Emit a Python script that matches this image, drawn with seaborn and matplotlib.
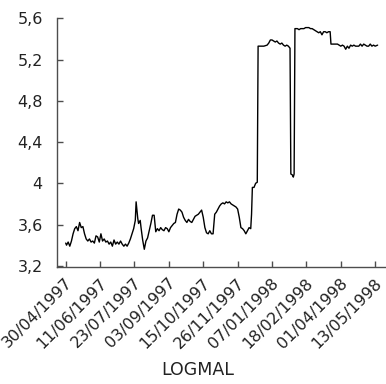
import pandas as pd
import numpy as np
import matplotlib
matplotlib.use("Agg")
from matplotlib import pyplot as plt
from matplotlib import transforms
import seaborn as sns

# series: day offset from the first date, value
start = "1997-04-30"
days = [0, 1, 3, 5, 7, 9, 11, 13, 15, 17, 19, 21, 23, 25, 27, 29, 31, 33, 35, 37,
        39, 41, 43, 45, 47, 49, 51, 53, 55, 57, 59, 61, 63, 65, 67, 69, 71, 73, 75, 77,
        79, 81, 83, 85, 86, 88, 89, 91, 92, 94, 96, 98, 100, 102, 104, 106, 108, 110, 112, 114,
        116, 118, 120, 122, 124, 126, 128, 130, 132, 134, 136, 138, 140, 142, 144, 146, 148, 150, 152, 154,
        156, 158, 160, 162, 164, 166, 168, 170, 172, 174, 176, 178, 180, 182, 184, 186, 188, 190, 192, 194,
        196, 198, 200, 202, 204, 206, 208, 210, 212, 214, 216, 218, 220, 222, 224, 226, 227, 228, 230, 232,
        234, 235, 238, 242, 246, 248, 250, 252, 254, 256, 258, 260, 262, 264, 266, 268, 270, 272, 274, 275,
        277, 278, 279, 280, 283, 285, 287, 289, 291, 293, 295, 297, 299, 301, 303, 305, 307, 309, 311, 313,
        315, 317, 319, 321, 323, 324, 327, 330, 332, 334, 336, 338, 340, 342, 344, 346, 348, 350, 352, 354,
        356, 358, 360, 362, 364, 366, 368, 370, 372, 374, 376, 378, 381]
logmal = [3.42, 3.40, 3.43, 3.39, 3.44, 3.51, 3.56, 3.58, 3.54, 3.62, 3.57, 3.58, 3.51, 3.46, 3.44, 3.46, 3.43, 3.44, 3.42, 3.49,
          3.48, 3.43, 3.51, 3.44, 3.46, 3.43, 3.44, 3.41, 3.43, 3.39, 3.45, 3.41, 3.43, 3.41, 3.44, 3.41, 3.39, 3.41, 3.39, 3.42,
          3.46, 3.51, 3.56, 3.64, 3.82, 3.66, 3.61, 3.64, 3.57, 3.45, 3.36, 3.44, 3.47, 3.54, 3.61, 3.69, 3.69, 3.53, 3.56, 3.54,
          3.57, 3.55, 3.54, 3.57, 3.56, 3.53, 3.57, 3.59, 3.61, 3.62, 3.70, 3.75, 3.74, 3.72, 3.67, 3.64, 3.62, 3.65, 3.63, 3.62,
          3.65, 3.68, 3.69, 3.70, 3.72, 3.74, 3.67, 3.57, 3.52, 3.51, 3.54, 3.51, 3.51, 3.70, 3.72, 3.75, 3.78, 3.80, 3.81, 3.80,
          3.82, 3.81, 3.82, 3.80, 3.79, 3.78, 3.77, 3.75, 3.67, 3.57, 3.56, 3.54, 3.51, 3.54, 3.57, 3.56, 3.70, 3.96, 3.96, 4.00,
          4.01, 5.33, 5.33, 5.33, 5.34, 5.36, 5.39, 5.39, 5.38, 5.37, 5.38, 5.36, 5.35, 5.36, 5.34, 5.33, 5.34, 5.33, 5.31, 4.09,
          4.08, 4.06, 4.09, 5.50, 5.50, 5.49, 5.50, 5.50, 5.50, 5.51, 5.51, 5.51, 5.50, 5.50, 5.49, 5.48, 5.47, 5.46, 5.47, 5.44,
          5.47, 5.47, 5.46, 5.47, 5.47, 5.35, 5.35, 5.35, 5.35, 5.34, 5.33, 5.34, 5.33, 5.30, 5.33, 5.31, 5.34, 5.33, 5.34, 5.33,
          5.33, 5.33, 5.35, 5.33, 5.35, 5.34, 5.33, 5.33, 5.35, 5.33, 5.34, 5.33, 5.34]

x_ticks = ["30/04/1997", "11/06/1997", "23/07/1997", "03/09/1997", "15/10/1997",
           "26/11/1997", "07/01/1998", "18/02/1998", "01/04/1998", "13/05/1998"]
y_ticks = [3.2, 3.6, 4.0, 4.4, 4.8, 5.2, 5.6]
y_labels = ["3,2", "3,6", "4", "4,4", "4,8", "5,2", "5,6"]

t0 = pd.Timestamp(start)
df = pd.DataFrame({"date": t0 + pd.to_timedelta(days, unit="D"), "LOGMAL": logmal})

sns.set_style("ticks")
plt.rcParams['font.family'] = ['DejaVu Sans']

fig = plt.figure(figsize=(3.86, 3.84), dpi=100)
ax = fig.add_axes([0.1469, 0.3052, 0.8505, 0.6471])
sns.lineplot(data=df, x="date", y="LOGMAL", color="black", lw=1.0, estimator=None, ax=ax)

ax.set_xlim(t0 - pd.Timedelta(days=11), t0 + pd.Timedelta(days=390))
ax.set_ylim(3.19, 5.6)
ax.set_xticks(pd.to_datetime(x_ticks, format="%d/%m/%Y"))
ax.set_xticklabels(x_ticks, rotation=45, ha="right", va="center", rotation_mode="anchor")
ax.set_yticks(y_ticks)
ax.set_yticklabels(y_labels)
ax.tick_params(direction="in", length=4, width=1, color="#4d4d4d", labelsize=11.5,
               labelcolor="#222222")
ax.tick_params(axis="y", pad=10)
ax.tick_params(axis="x", pad=10, labelsize=11.5)

# nudge the rotated date labels to the right, as in the original
shift = transforms.ScaledTranslation(0.04, 0, fig.dpi_scale_trans)
for lab in ax.get_xticklabels():
    lab.set_transform(lab.get_transform() + shift)

sns.despine(ax=ax)
for s in ["left", "bottom"]:
    ax.spines[s].set_color("#4d4d4d")
    ax.spines[s].set_linewidth(1.0)

ax.set_ylabel("")
ax.set_xlabel("LOGMAL", fontsize=12.5, color="#222222")
ax.xaxis.label.set_va("baseline")
ax.xaxis.set_label_coords(0.429, -0.437)

fig.savefig("out.png", dpi=100)
